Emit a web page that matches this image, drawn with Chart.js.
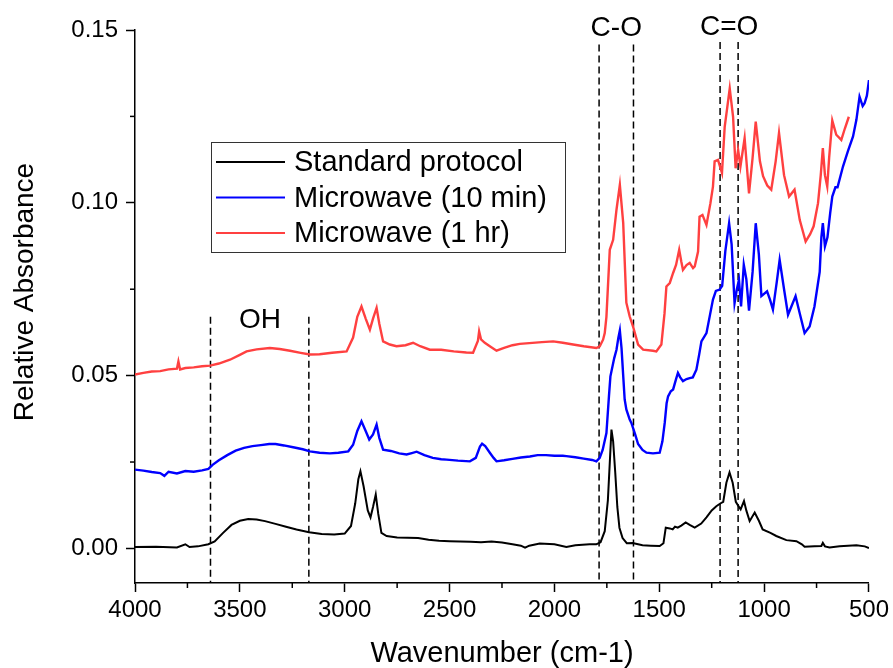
<!DOCTYPE html>
<html>
<head>
<meta charset="utf-8">
<title>FTIR spectra</title>
<script src="https://cdn.jsdelivr.net/npm/chart.js@4.4.1/dist/chart.umd.min.js"></script>
<style>
  html,body{margin:0;padding:0;background:#fff;}
  #wrap{width:893px;height:668px;position:relative;}
</style>
</head>
<body>
<div id="wrap"><canvas id="ftir"></canvas></div>
<script>
// --- data (wavenumber cm-1 / relative absorbance)
const stdWave = [4000,3900,3800,3760,3740,3700,3650,3620,3580,3540,3500,3460,3420,3380,3330,3280,3230,3170,3110,3050,3000,2970,2950,2935,2925,2910,2890,2877,2865,2852,2840,2825,2800,2750,2700,2650,2600,2550,2500,2450,2400,2350,2300,2250,2200,2160,2140,2120,2070,2000,1943,1900,1832,1800,1780,1760,1745,1735,1728,1720,1710,1700,1690,1675,1655,1627,1580,1540,1498,1480,1469,1450,1436,1425,1412,1395,1374,1355,1331,1300,1275,1250,1228,1209,1195,1180,1165,1150,1135,1125,1112,1096,1085,1069,1045,1025,1007,970,942,894,846,820,807,760,727,720,710,688,640,600,560,520,500];
const stdAbs  = [.0004,.0005,.0003,.0012,.0004,.0006,.0012,.002,.0045,.0068,.008,.0085,.0084,.0079,.0071,.0063,.0055,.0047,.0042,.004,.0043,.0065,.013,.02,.0223,.018,.011,.009,.012,.0156,.01,.0045,.0036,.0032,.0031,.003,.0025,.0022,.0021,.002,.0019,.0018,.002,.0017,.0012,.0008,.0002,.0008,.0014,.0012,.0004,.0009,.0012,.0012,.0018,.005,.014,.026,.0344,.031,.022,.012,.006,.003,.0015,.0016,.0009,.0008,.0007,.0015,.006,.0058,.0055,.0063,.006,.0066,.0075,.0068,.006,.0072,.009,.011,.0122,.013,.0135,.019,.022,.019,.0135,.0125,.0113,.0137,.011,.0079,.0104,.008,.0055,.0045,.0036,.0024,.0021,.0012,.0005,.0006,.0007,.0016,.0006,.0003,.0006,.0008,.0009,.0006,.0001];

const mw10Wave = [4000,3960,3920,3880,3860,3840,3800,3760,3720,3680,3650,3630,3600,3560,3520,3480,3440,3400,3360,3330,3290,3240,3200,3166,3120,3071,3030,2983,2960,2940,2920,2900,2883,2865,2848,2835,2817,2780,2740,2705,2680,2657,2620,2580,2540,2514,2460,2403,2375,2355,2345,2330,2308,2290,2276,2240,2200,2160,2117,2080,2040,2000,1960,1943,1900,1860,1820,1800,1784,1770,1752,1740,1733,1715,1704,1695,1688,1680,1672,1665,1657,1641,1633,1615,1601,1580,1561,1530,1498,1485,1474,1465,1458,1445,1434,1420,1411,1400,1387,1370,1355,1340,1323,1310,1299,1275,1260,1244,1230,1212,1200,1185,1167,1155,1141,1130,1120,1110,1097,1085,1072,1055,1040,1025,1013,986,972,958,940,926,905,886,870,850,830,807,783,760,745,735,727,720,710,698,685,675,660,650,624,600,576,560,545,530,521,510,500];
const mw10Abs  = [.0228,.0225,.0221,.0218,.021,.0222,.0217,.0224,.0222,.0226,.023,.0242,.0255,.027,.0283,.0291,.0296,.0299,.0302,.0302,.0298,.0292,.0287,.0281,.0277,.0275,.0277,.0281,.03,.034,.0368,.034,.0315,.033,.0358,.032,.0286,.0282,.0275,.0272,.0276,.028,.027,.0262,.0258,.0257,.0254,.0252,.0262,.0295,.0303,.0296,.0277,.0262,.0252,.0255,.0259,.0263,.0266,.027,.027,.0268,.0268,.0267,.0264,.026,.0256,.0252,.0262,.0285,.0334,.044,.0498,.055,.0575,.061,.0631,.058,.05,.0431,.0402,.0373,.0363,.033,.0302,.0285,.0277,.0275,.0277,.031,.0363,.042,.044,.0455,.046,.049,.0508,.0495,.0484,.049,.0493,.0495,.0517,.056,.0599,.0623,.067,.072,.0745,.0749,.076,.086,.0941,.088,.071,.075,.0777,.07,.0821,.078,.0688,.08,.0941,.085,.073,.0744,.072,.0691,.077,.0835,.075,.0676,.07,.073,.068,.0623,.0642,.07,.076,.08,.09,.0941,.0874,.09,.097,.1018,.1045,.1045,.1105,.115,.1192,.124,.1307,.128,.1288,.131,.1355];

const mw1hWave = [4000,3960,3920,3880,3840,3800,3793,3785,3760,3720,3680,3642,3600,3547,3500,3468,3420,3357,3310,3261,3210,3166,3120,3060,2991,2960,2940,2920,2900,2880,2865,2848,2835,2817,2785,2753,2710,2674,2640,2594,2540,2480,2420,2388,2365,2359,2350,2332,2308,2276,2240,2200,2165,2120,2060,2006,1960,1911,1860,1800,1784,1768,1760,1752,1736,1720,1704,1688,1672,1657,1641,1625,1601,1577,1530,1514,1490,1475,1466,1450,1434,1420,1405,1395,1387,1370,1355,1339,1331,1315,1308,1294,1275,1256,1244,1236,1220,1201,1188,1175,1164,1148,1136,1124,1113,1093,1072,1055,1040,1020,1005,985,966,945,929,905,881,855,830,802,780,764,743,730,720,710,699,690,675,656,632,615,596];
const mw1hAbs  = [.0503,.0508,.0512,.0513,.0518,.052,.0541,.0518,.0522,.0524,.0527,.0529,.0535,.0546,.056,.057,.0576,.058,.0577,.0572,.0566,.0561,.0562,.0566,.057,.061,.067,.07,.0665,.0633,.0665,.0696,.065,.0599,.059,.0585,.0588,.0595,.0585,.0575,.0575,.057,.0567,.0566,.06,.0628,.0605,.0595,.0585,.0572,.058,.0588,.0592,.0594,.0597,.0599,.0595,.059,.0585,.058,.0585,.0604,.0623,.067,.0864,.0893,.098,.1052,.0942,.0711,.0671,.0642,.059,.0575,.0572,.057,.059,.068,.0758,.0768,.0797,.082,.0864,.083,.0806,.082,.0826,.0811,.0816,.0859,.096,.0965,.0936,.0999,.1047,.112,.1124,.1086,.122,.128,.1331,.1249,.11,.1153,.1105,.1187,.1027,.113,.1235,.112,.1077,.105,.1038,.112,.1202,.108,.1018,.1038,.095,.0888,.091,.0932,.0999,.108,.1158,.108,.1047,.113,.1238,.1197,.1182,.1215,.1249];

const seriesNames  = ['Standard protocol','Microwave (10 min)','Microwave (1 hr)'];
const seriesColors = ['#000000','#0000ff','#ff4040'];

// dashed band markers: wavenumber and where the dash starts (absorbance)
const bandWave = [3640,3171,1787,1623,1210,1124];
const bandTop  = [.067,.067,.1458,.1458,.1465,.1465];
const bandText = ['OH','C-O','C=O'];
const bandTextWave = [3404,1705,1167];
const bandTextAbs  = [.066,.1506,.1508];

const xTicks = [4000,3500,3000,2500,2000,1500,1000,500];
const xMinor = [3750,3250,2750,2250,1750,1250,750];
const yTicks = [0,.05,.10,.15];
const yMinor = [.025,.075,.125];

const FONT = "'Liberation Sans', Arial, sans-serif";

function pairs(w,a){ return w.map((x,i)=>({x:x, y:a[i]})); }

const specSets = [
  pairs(stdWave,stdAbs),
  pairs(mw10Wave,mw10Abs),
  pairs(mw1hWave,mw1hAbs)
].map((d,i)=>({
  label:seriesNames[i], data:d, borderColor:seriesColors[i], backgroundColor:seriesColors[i],
  borderWidth: i===0 ? 2 : 2.4, pointRadius:0, tension:0, fill:false, order:1
}));

const bandSets = bandWave.map((w,i)=>({
  label:'band'+i, data:[{x:w,y:bandTop[i]},{x:w,y:-0.01}],
  borderColor:'#000', borderWidth:1.5, borderDash:[7,4], pointRadius:0, fill:false, order:2
}));

// minor ticks, band labels, axis titles and the boxed legend
const extras = {
  id:'extras',
  afterDraw(chart){
    const c = chart.ctx, xs = chart.scales.x, ys = chart.scales.y, a = chart.chartArea;
    c.save();
    c.strokeStyle = '#000'; c.lineWidth = 1.5;
    xMinor.forEach(v=>{ const p = xs.getPixelForValue(v); c.beginPath(); c.moveTo(p,a.bottom); c.lineTo(p,a.bottom+5); c.stroke(); });
    yMinor.forEach(v=>{ const p = ys.getPixelForValue(v); c.beginPath(); c.moveTo(a.left,p); c.lineTo(a.left-5,p); c.stroke(); });

    c.fillStyle = '#000';
    c.textAlign = 'center'; c.textBaseline = 'middle';
    c.font = '28px ' + FONT;
    bandText.forEach((t,i)=>{
      c.fillText(t, xs.getPixelForValue(bandTextWave[i]), ys.getPixelForValue(bandTextAbs[i]));
    });

    c.font = '29px ' + FONT;
    c.fillText('Wavenumber (cm-1)', (a.left+a.right)/2, 654);
    c.save();
    c.translate(25, 292); c.rotate(-Math.PI/2);
    c.font = '28px ' + FONT;
    c.fillText('Relative Absorbance', 0, 0);
    c.restore();

    // legend
    c.lineWidth = 1; c.strokeStyle = '#333';
    c.strokeRect(211.5, 142.5, 354, 110);
    c.font = '29px ' + FONT; c.textAlign = 'left';
    seriesNames.forEach((n,i)=>{
      const y = 162 + i*35.5;
      c.strokeStyle = seriesColors[i]; c.lineWidth = 2;
      c.beginPath(); c.moveTo(216,y); c.lineTo(285,y); c.stroke();
      c.fillStyle = '#000';
      c.fillText(n, 294, y+1);
    });
    c.restore();
  }
};

new Chart(document.getElementById('ftir'), {
  type:'line',
  data:{ datasets: specSets.concat(bandSets) },
  options:{
    responsive:true, maintainAspectRatio:false, animation:false,
    layout:{ padding:{ left:0, top:30, right:23, bottom:0 } },
    plugins:{ legend:{display:false}, tooltip:{enabled:false} },
    scales:{
      x:{
        type:'linear', reverse:true, min:500, max:4000,
        afterFit(s){ s.height = 85; },
        afterBuildTicks(s){ s.ticks = xTicks.map(v=>({value:v})); },
        grid:{ display:true, drawOnChartArea:false, drawTicks:true, tickLength:9, tickColor:'#000', tickWidth:1.5 },
        border:{ display:true, color:'#000', width:1.5 },
        ticks:{ color:'#000', font:{family:FONT, size:24}, padding:4, maxRotation:0, autoSkip:false, callback:v=>String(v) }
      },
      y:{
        type:'linear', min:-0.01, max:0.15,
        afterFit(s){ s.width = 135; },
        afterBuildTicks(s){ s.ticks = yTicks.map(v=>({value:v})); },
        grid:{ display:true, drawOnChartArea:false, drawTicks:true, tickLength:9, tickColor:'#000', tickWidth:1.5 },
        border:{ display:true, color:'#000', width:1.5 },
        ticks:{ color:'#000', font:{family:FONT, size:24}, padding:8, callback:v=>v.toFixed(2) }
      }
    }
  },
  plugins:[extras]
});
</script>
</body>
</html>
